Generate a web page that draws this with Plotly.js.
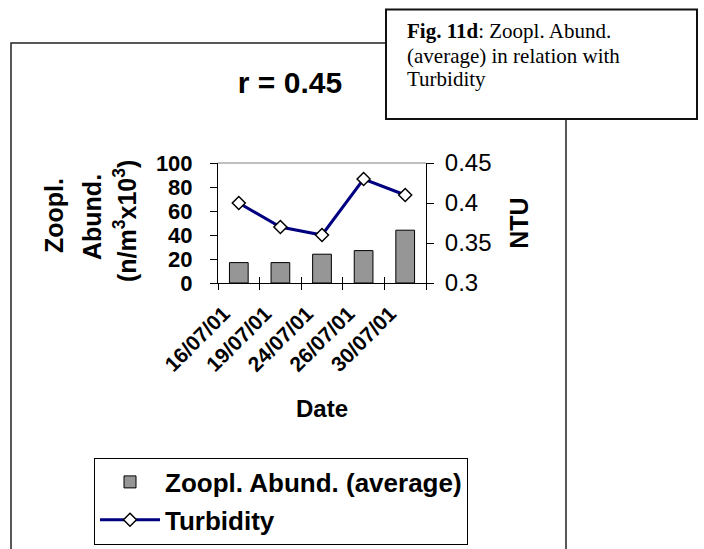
<!DOCTYPE html>
<html>
<head>
<meta charset="utf-8">
<script src="https://cdn.plot.ly/plotly-3.0.1.min.js"></script>
<style>html,body{margin:0;padding:0;background:#fff;}#chart{width:704px;height:549px;}</style>
</head>
<body>
<div id="chart"></div>
<script>
// ---- data ----
const dates = ["16/07/01", "19/07/01", "24/07/01", "26/07/01", "30/07/01"];
const zooplAbund = [17, 17, 24, 27, 44];          // n/m3 x10^3 (left axis)
const turbidity = [0.40, 0.37, 0.36, 0.43, 0.41]; // NTU (right axis)
const leftTicks = [0, 20, 40, 60, 80, 100];
const rightTicks = [0.3, 0.35, 0.4, 0.45];

const SANS = "Liberation Sans, Arial, sans-serif";
const SERIF = "Liberation Serif, Times New Roman, serif";

// plot area in pixels: x 218..426, y 163..283
const L = 218, T = 163, W = 208, H = 120;
const px = v => (v - L) / W;
const py = v => (T + H - v) / H;

const traces = [
  {
    type: "bar", name: "Zoopl. Abund. (average)", legendgroup: "a",
    x: dates, y: zooplAbund, xaxis: "x", yaxis: "y",
    width: 0.45,
    marker: {color: "#969696", line: {color: "#000", width: 1}}
  },
  {
    type: "scatter", mode: "lines+markers", name: "Turbidity", legendgroup: "b",
    x: dates, y: turbidity, xaxis: "x2", yaxis: "y2",
    line: {color: "#000080", width: 3},
    marker: {symbol: "diamond", size: 10, color: "#fff", line: {color: "#000", width: 1.5}}
  }
];

const yTitleFont = {family: SANS, size: 25, color: "#000"};

const layout = {
  width: 704, height: 549,
  margin: {l: L, r: 704 - L - W, t: T, b: 549 - T - H, pad: 0, autoexpand: false},
  paper_bgcolor: "#fff", plot_bgcolor: "rgba(0,0,0,0)",
  showlegend: true,
  title: {
    text: "<b>r = 0.45</b>", font: {family: SANS, size: 30, color: "#000"},
    x: 290 / 704, xanchor: "center", xref: "container",
    y: 1 - 82 / 549, yanchor: "middle", yref: "container"
  },
  xaxis: {
    type: "category", categoryarray: dates, range: [-0.5, 4.5],
    showline: true, linecolor: "#000", linewidth: 1,
    ticks: "outside", ticklen: 6, tickcolor: "#000", tickson: "boundaries",
    tickangle: -45, ticklabelstandoff: 9, ticklabelshift: -15,
    tickfont: {family: SANS, size: 21, color: "#000", weight: "bold"},
    showgrid: false, zeroline: false, automargin: false,
    title: {text: "<b>Date</b>", font: {family: SANS, size: 24, color: "#000"}, standoff: 25}
  },
  xaxis2: {
    type: "category", categoryarray: dates, range: [-0.5, 4.5],
    overlaying: "x", anchor: "y", side: "bottom",
    ticks: "inside", ticklen: 6, tickcolor: "#000", tickson: "boundaries",
    showticklabels: false, showgrid: false, zeroline: false, showline: false
  },
  yaxis: {
    range: [0, 100], tickvals: leftTicks,
    showline: true, linecolor: "#000", linewidth: 1,
    ticks: "outside", ticklen: 7, tickcolor: "#000", ticklabelstandoff: 13,
    tickfont: {family: SANS, size: 22, color: "#000", weight: "bold"},
    showgrid: false, zeroline: false, automargin: false
  },
  yaxis2: {
    range: [0.3, 0.45], tickvals: rightTicks,
    overlaying: "y", side: "right", anchor: "x",
    showline: true, linecolor: "#000", linewidth: 1,
    ticks: "outside", ticklen: 7, tickcolor: "#000", ticklabelstandoff: 6,
    tickfont: {family: SANS, size: 24, color: "#000"},
    showgrid: false, zeroline: false, automargin: false,
    title: {text: "<b>NTU</b>", font: {family: SANS, size: 25, color: "#000"}, standoff: 19}
  },
  legend: {
    x: px(94), y: py(457.5), xanchor: "left", yanchor: "top",
    xref: "paper", yref: "paper",
    bgcolor: "#fff", bordercolor: "#000", borderwidth: 1,
    font: {family: SANS, size: 26, color: "#000", weight: "bold"},
    itemwidth: 60, traceorder: "grouped", tracegroupgap: 1
  },
  shapes: [
    // outer frame (left, top, right sides; bottom beyond the page)
    {type: "rect", xref: "paper", yref: "paper",
     x0: px(11), x1: px(566), y0: py(600), y1: py(43),
     line: {color: "#222", width: 1.5}, fillcolor: "rgba(0,0,0,0)", layer: "below"},
    // top border of plot area (grey)
    {type: "line", xref: "paper", yref: "paper", x0: 0, x1: 1, y0: 1, y1: 1,
     line: {color: "#808080", width: 1}},
    // caption box
    {type: "rect", xref: "paper", yref: "paper",
     x0: px(386), x1: px(697), y0: py(119), y1: py(9.5),
     line: {color: "#111", width: 2}, fillcolor: "#fff", layer: "above"}
  ],
  annotations: [
    // left axis title, three rotated lines
    {xref: "paper", yref: "paper", x: px(54), y: py(216), xanchor: "center", yanchor: "middle",
     textangle: -90, showarrow: false, text: "<b>Zoopl.</b>", font: yTitleFont},
    {xref: "paper", yref: "paper", x: px(92), y: py(217), xanchor: "center", yanchor: "middle",
     textangle: -90, showarrow: false, text: "<b>Abund.</b>", font: yTitleFont},
    {xref: "paper", yref: "paper", x: px(125), y: py(221), xanchor: "center", yanchor: "middle",
     textangle: -90, showarrow: false, text: "<b>(n/m<sup>3</sup>x10<sup>3</sup>)</b>", font: yTitleFont},
    // caption text
    {xref: "paper", yref: "paper", x: px(405), y: py(31), xanchor: "left", yanchor: "middle",
     showarrow: false, text: "<b>Fig. 11d</b>: Zoopl. Abund.",
     font: {family: SERIF, size: 21, color: "#000"}},
    {xref: "paper", yref: "paper", x: px(405), y: py(56), xanchor: "left", yanchor: "middle",
     showarrow: false, text: "(average) in relation with",
     font: {family: SERIF, size: 21, color: "#000"}},
    {xref: "paper", yref: "paper", x: px(405), y: py(79), xanchor: "left", yanchor: "middle",
     showarrow: false, text: "Turbidity",
     font: {family: SERIF, size: 21, color: "#000"}}
  ]
};

Plotly.newPlot("chart", traces, layout, {displayModeBar: false, staticPlot: true});
</script>
</body>
</html>
